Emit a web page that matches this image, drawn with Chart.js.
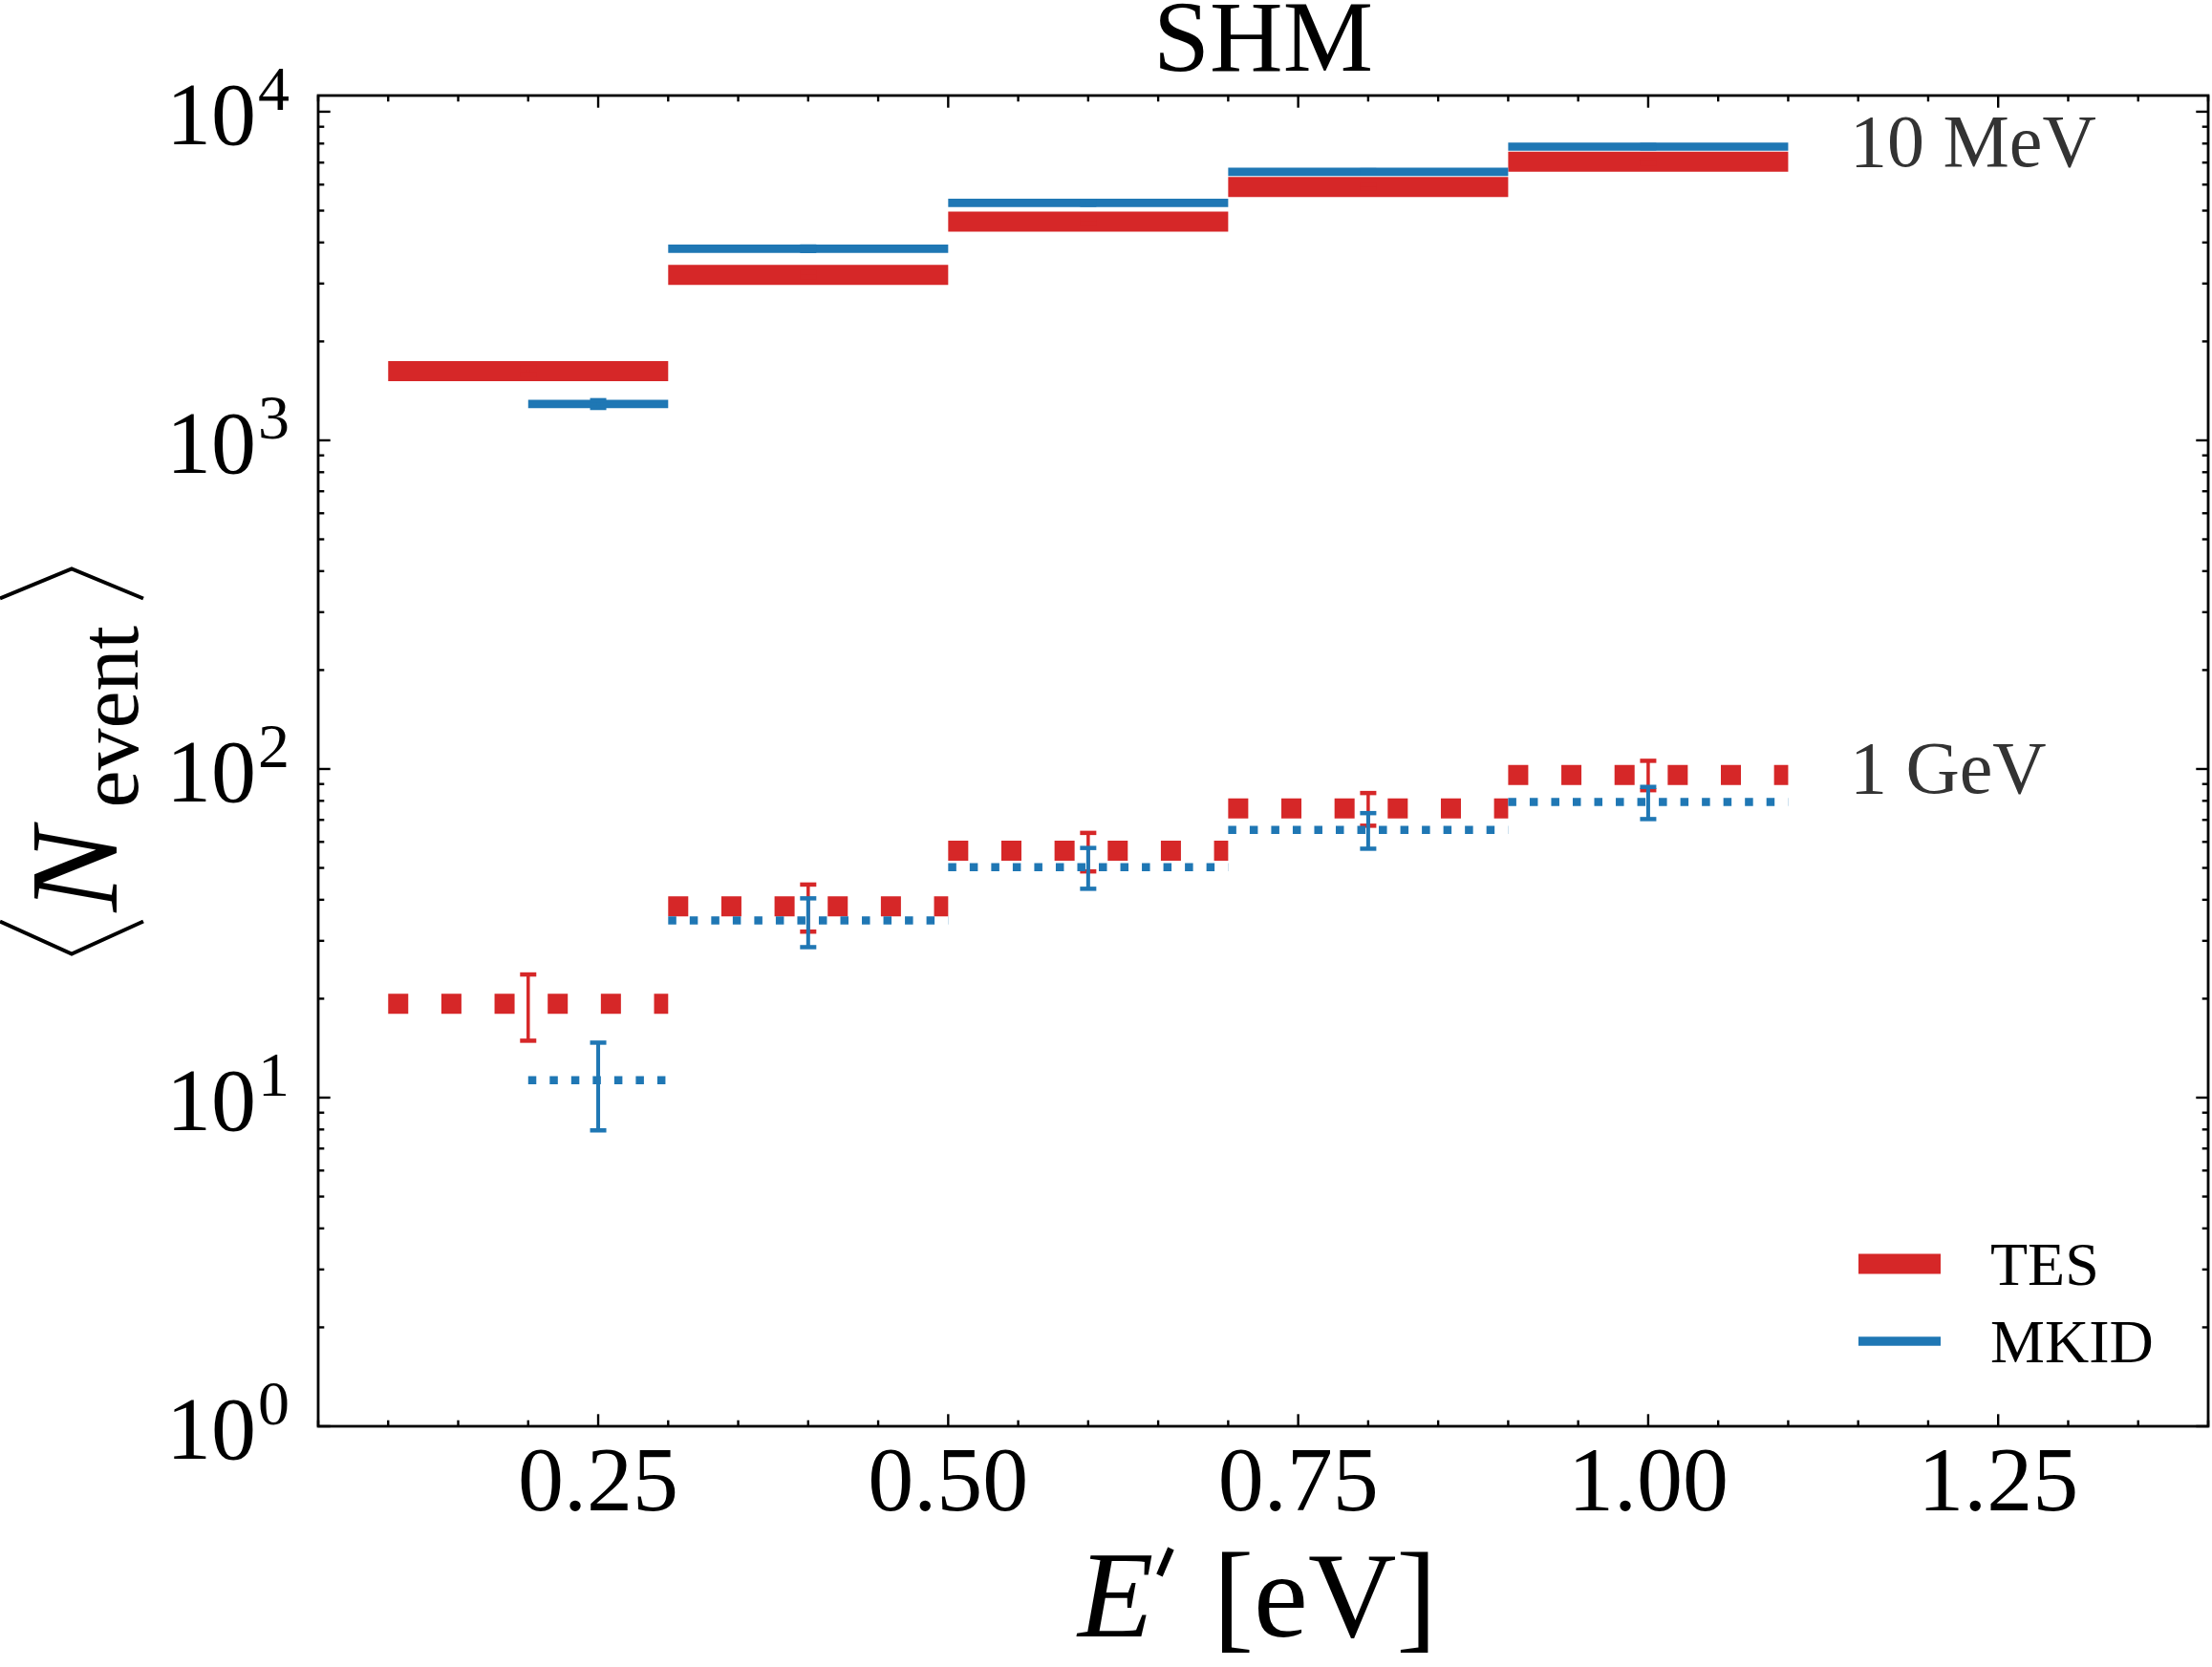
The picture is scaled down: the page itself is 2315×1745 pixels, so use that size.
<!DOCTYPE html>
<html>
<head>
<meta charset="utf-8">
<title>SHM</title>
<script src="https://cdn.jsdelivr.net/npm/chart.js@4.4.0/dist/chart.umd.min.js"></script>
<style>
  html, body { margin: 0; padding: 0; background: #fff; }
  canvas { display: block; }
</style>
</head>
<body>
<canvas id="shmChart" width="2315" height="1745"></canvas>
<script>
// bin edges and error bar positions (E' in eV)
const tesBinLo = [0.1, 0.3, 0.5, 0.7, 0.9];
const tesBinHi = [0.3, 0.5, 0.7, 0.9, 1.1];
const tesCentre = [0.2, 0.4, 0.6, 0.8, 1.0];
const mkidBinLo = [0.2, 0.3, 0.5, 0.7, 0.9];
const mkidBinHi = [0.3, 0.5, 0.7, 0.9, 1.1];
const mkidCentre = [0.25, 0.4, 0.6, 0.8, 1.0];

// 10 MeV, <N_event> and error bar ends
const tes10MeV = [1625, 3190, 4630, 5900, 7040];
const tes10MeVLow = [1585, 3135, 4565, 5825, 6955];
const tes10MeVHigh = [1665, 3245, 4700, 5980, 7125];
const mkid10MeV = [1290, 3830, 5280, 6560, 7830];
const mkid10MeVLow = [1255, 3770, 5210, 6480, 7740];
const mkid10MeVHigh = [1325, 3890, 5350, 6640, 7920];

// 1 GeV
const tes1GeV = [19.3, 38.2, 56.4, 75.9, 95.9];
const tes1GeVLow = [14.9, 32.0, 48.8, 67.2, 86.2];
const tes1GeVHigh = [23.7, 44.5, 63.9, 84.5, 105.9];
const mkid1GeV = [11.3, 34.6, 50.3, 65.2, 79.3];
const mkid1GeVLow = [7.95, 28.7, 43.2, 57.2, 70.4];
const mkid1GeVHigh = [14.7, 40.4, 57.5, 73.4, 88.2];

// axes
const xTickValues = [0.25, 0.5, 0.75, 1.0, 1.25];
const xTickLabels = ['0.25', '0.50', '0.75', '1.00', '1.25'];
const yTickExponents = [0, 1, 2, 3, 4];

const RED = '#d62728';
const BLUE = '#1f77b4';
const SERIF = '"Liberation Serif", "DejaVu Serif", serif';

// text annotations (data coords of left baseline)
const massLabels = [
  { text: '10 MeV', x: 1.144, y: 6817 },
  { text: '1 GeV', x: 1.144, y: 84.3 }
];

// one point pair per bin, null between bins so the line breaks
function binSegments(lo, hi, vals) {
  const pts = [];
  vals.forEach((v, i) => {
    if (i > 0) pts.push({ x: lo[i], y: null });
    pts.push({ x: lo[i], y: v }, { x: hi[i], y: v });
  });
  return pts;
}

function stepDataset(label, lo, hi, vals, centre, low, high, color, width, dotted, order) {
  return {
    label: label,
    data: binSegments(lo, hi, vals),
    borderColor: color,
    borderWidth: width,
    borderCapStyle: 'butt',
    borderDash: dotted ? [width, width * 1.65] : [],
    pointRadius: 0,
    spanGaps: false,
    fill: false,
    order: order,
    errCentre: centre,
    errLow: low,
    errHigh: high
  };
}

const datasets = [
  stepDataset('TES 10 MeV', tesBinLo, tesBinHi, tes10MeV, tesCentre, tes10MeVLow, tes10MeVHigh, RED, 21, false, 4),
  stepDataset('MKID 10 MeV', mkidBinLo, mkidBinHi, mkid10MeV, mkidCentre, mkid10MeVLow, mkid10MeVHigh, BLUE, 8.7, false, 3),
  stepDataset('TES 1 GeV', tesBinLo, tesBinHi, tes1GeV, tesCentre, tes1GeVLow, tes1GeVHigh, RED, 21, true, 2),
  stepDataset('MKID 1 GeV', mkidBinLo, mkidBinHi, mkid1GeV, mkidCentre, mkid1GeVLow, mkid1GeVHigh, BLUE, 8.5, true, 1)
];

// vertical error bars with caps, drawn right after their own line
const errorBarPlugin = {
  id: 'errorBars',
  afterDatasetDraw(chart, args) {
    const ds = chart.data.datasets[args.index];
    if (!ds.errCentre) return;
    const { ctx, chartArea, scales } = chart;
    ctx.save();
    ctx.beginPath();
    ctx.rect(chartArea.left, chartArea.top, chartArea.width, chartArea.height);
    ctx.clip();
    ctx.strokeStyle = ds.borderColor;
    ctx.lineCap = 'butt';
    ds.errCentre.forEach((c, i) => {
      const px = scales.x.getPixelForValue(c);
      const top = scales.y.getPixelForValue(ds.errHigh[i]);
      const bot = scales.y.getPixelForValue(ds.errLow[i]);
      ctx.lineWidth = ds.borderColor === RED ? 3.5 : 4;
      ctx.beginPath();
      ctx.moveTo(px, top);
      ctx.lineTo(px, bot);
      ctx.stroke();
      ctx.lineWidth = 4.5;
      [top, bot].forEach(py => {
        ctx.beginPath();
        ctx.moveTo(px - 8.5, py);
        ctx.lineTo(px + 8.5, py);
        ctx.stroke();
      });
    });
    ctx.restore();
  }
};

// frame, inward ticks on all sides, labels, title, annotations, legend
const framePlugin = {
  id: 'frame',
  afterDraw(chart) {
    const { ctx, chartArea: a, scales } = chart;
    const xs = scales.x, ys = scales.y;
    ctx.save();
    ctx.strokeStyle = '#000';
    ctx.fillStyle = '#000';
    ctx.lineCap = 'butt';

    function tick(px, py, dx, dy, len, w) {
      ctx.lineWidth = w;
      ctx.beginPath();
      ctx.moveTo(px, py);
      ctx.lineTo(px + dx * len, py + dy * len);
      ctx.stroke();
    }

    // x ticks: major every 0.25, minor every 0.05
    for (let k = 1; k <= 28; k++) {
      const v = k * 0.05;
      const px = xs.getPixelForValue(v);
      if (px < a.left - 0.5 || px > a.right + 0.5) continue;
      const major = xTickValues.some(t => Math.abs(t - v) < 1e-6);
      const len = major ? 12.7 : 6.3;
      tick(px, a.bottom, 0, -1, len, 2.4);
      tick(px, a.top, 0, 1, len, 2.4);
    }
    // y ticks: decades + minor 2..9
    for (let e = 0; e <= 4; e++) {
      for (let m = 1; m <= 9; m++) {
        const v = m * Math.pow(10, e);
        if (v > ys.max) continue;
        const py = ys.getPixelForValue(v);
        const len = m === 1 ? 12.7 : 6.3;
        tick(a.left, py, 1, 0, len, 2.4);
        tick(a.right, py, -1, 0, len, 2.4);
      }
    }

    // spines
    ctx.lineWidth = 2.8;
    ctx.strokeRect(a.left, a.top, a.right - a.left, a.bottom - a.top);

    // x tick labels
    ctx.font = '96px ' + SERIF;
    ctx.textAlign = 'center';
    ctx.textBaseline = 'alphabetic';
    xTickValues.forEach((v, i) => {
      ctx.fillText(xTickLabels[i], xs.getPixelForValue(v), a.bottom + 88);
    });

    // y tick labels 10^n
    yTickExponents.forEach(e => {
      const py = ys.getPixelForValue(Math.pow(10, e));
      ctx.font = '66px ' + SERIF;
      ctx.textAlign = 'right';
      const supRight = a.left - 30;
      ctx.fillText(String(e), supRight, py - 2);
      const supW = ctx.measureText(String(e)).width;
      ctx.font = '94px ' + SERIF;
      ctx.fillText('10', supRight - supW - 2, py + 34);
    });

    // x axis label  E' [eV]
    const xl = a.left + (a.right - a.left) / 2 - 6;
    ctx.textAlign = 'left';
    ctx.font = 'italic 130px ' + SERIF;
    const eW = ctx.measureText('E').width;
    ctx.font = '128px ' + SERIF;
    const restW = ctx.measureText(' [eV]').width;
    const primeW = 30;
    const total = eW + primeW + restW;
    let cx = xl - total / 2;
    const base = 1713;
    ctx.font = 'italic 130px ' + SERIF;
    ctx.fillText('E', cx, base);
    cx += eW;
    // prime
    ctx.lineWidth = 7;
    ctx.beginPath();
    ctx.moveTo(cx + 18, base - 92);
    ctx.lineTo(cx + 6, base - 64);
    ctx.stroke();
    cx += primeW;
    ctx.font = '128px ' + SERIF;
    ctx.fillText(' [eV]', cx, base);

    // y axis label <N_event>, rotated
    ctx.save();
    const midY = a.top + (a.bottom - a.top) / 2;
    ctx.translate(122, midY + 202);
    ctx.rotate(-Math.PI / 2);
    ctx.lineWidth = 4;
    ctx.lineJoin = 'miter';
    ctx.beginPath();
    ctx.moveTo(34, -122); ctx.lineTo(0, -47); ctx.lineTo(34, 28);
    ctx.stroke();
    ctx.font = 'italic 132px ' + SERIF;
    ctx.textAlign = 'left';
    ctx.fillText('N', 44, 0);
    ctx.font = '88px ' + SERIF;
    ctx.fillText('event', 153, 22);
    ctx.beginPath();
    ctx.moveTo(372, -122); ctx.lineTo(403, -47); ctx.lineTo(372, 28);
    ctx.stroke();
    ctx.restore();

    // title
    ctx.font = '106px ' + SERIF;
    ctx.textAlign = 'center';
    ctx.fillText('SHM', a.left + (a.right - a.left) / 2, 74);

    // mass annotations
    ctx.font = '78px ' + SERIF;
    ctx.fillStyle = '#333333';
    ctx.textAlign = 'left';
    massLabels.forEach(m => {
      ctx.fillText(m.text, xs.getPixelForValue(m.x), ys.getPixelForValue(m.y));
    });

    // legend
    const legend = [
      { text: 'TES', color: RED, width: 21, dy: -170 },
      { text: 'MKID', color: BLUE, width: 9.3, dy: -89 }
    ];
    ctx.font = '64px ' + SERIF;
    ctx.fillStyle = '#000';
    legend.forEach(l => {
      const ly = a.bottom + l.dy;
      ctx.strokeStyle = l.color;
      ctx.lineWidth = l.width;
      ctx.beginPath();
      ctx.moveTo(a.right - 366, ly);
      ctx.lineTo(a.right - 280, ly);
      ctx.stroke();
      ctx.fillText(l.text, a.right - 228, ly + 22);
    });
    ctx.restore();
  }
};

const shmChart = new Chart(document.getElementById('shmChart').getContext('2d'), {
  type: 'line',
  data: { datasets: datasets },
  options: {
    responsive: false,
    animation: false,
    devicePixelRatio: 1,
    layout: { padding: { left: 333, right: 4, top: 100, bottom: 252 } },
    scales: {
      x: { type: 'linear', min: 0.05, max: 1.4, display: false },
      y: { type: 'logarithmic', min: 1, max: 11200, display: false }
    },
    plugins: {
      legend: { display: false },
      tooltip: { enabled: false },
      title: { display: false }
    }
  },
  plugins: [errorBarPlugin, framePlugin]
});
</script>
</body>
</html>
